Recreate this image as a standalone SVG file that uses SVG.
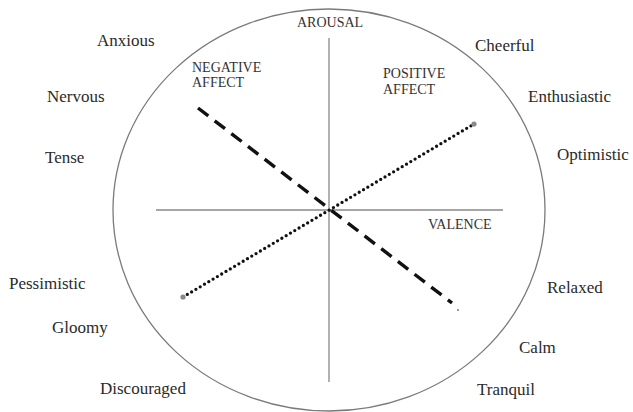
<svg xmlns="http://www.w3.org/2000/svg" width="633" height="412" viewBox="0 0 633 412">
<style>
.lbl{font-family:"Liberation Serif","Times New Roman",serif;font-size:17px;fill:#2a2a2a}
.cap{font-family:"Liberation Serif","Times New Roman",serif;font-size:14px;fill:#333}
.axis{stroke:#888;stroke-width:1.3;fill:none}
</style>
<rect width="633" height="412" fill="#fff"/>
<g id="circle"><ellipse cx="329" cy="210" rx="216" ry="201" fill="none" stroke="#7a7a7a" stroke-width="1.3"/></g>
<g id="connectors">
<line class="axis" x1="329" y1="38" x2="329" y2="382"/>
<line class="axis" x1="156" y1="210" x2="503" y2="210"/>
<line x1="198" y1="108" x2="452" y2="303" stroke="#111" stroke-width="3.4" stroke-dasharray="13 8"/>
<circle cx="458" cy="310" r="1" fill="#777"/>
<line x1="183" y1="297" x2="474" y2="124" stroke="#111" stroke-width="3.3" stroke-linecap="round" stroke-dasharray="0 5"/>
<circle cx="183" cy="297" r="2.6" fill="#888"/>
<circle cx="474" cy="124" r="2.6" fill="#888"/>
</g>
<g id="axis-labels">
<text class="cap" x="297" y="27">AROUSAL</text>
<text class="cap" x="428" y="229">VALENCE</text>
</g>
<g id="negative-affect"><text class="cap" x="192" y="72">NEGATIVE</text><text class="cap" x="192" y="87">AFFECT</text></g>
<g id="positive-affect"><text class="cap" x="383" y="78">POSITIVE</text><text class="cap" x="383" y="94">AFFECT</text></g>
<g id="anxious"><text class="lbl" x="97" y="46">Anxious</text></g>
<g id="nervous"><text class="lbl" x="47" y="102">Nervous</text></g>
<g id="tense"><text class="lbl" x="45" y="163">Tense</text></g>
<g id="pessimistic"><text class="lbl" x="9" y="289">Pessimistic</text></g>
<g id="gloomy"><text class="lbl" x="52" y="333">Gloomy</text></g>
<g id="discouraged"><text class="lbl" x="100" y="394">Discouraged</text></g>
<g id="cheerful"><text class="lbl" x="475" y="51">Cheerful</text></g>
<g id="enthusiastic"><text class="lbl" x="528" y="102">Enthusiastic</text></g>
<g id="optimistic"><text class="lbl" x="557" y="160">Optimistic</text></g>
<g id="relaxed"><text class="lbl" x="547" y="293">Relaxed</text></g>
<g id="calm"><text class="lbl" x="519" y="353">Calm</text></g>
<g id="tranquil"><text class="lbl" x="477" y="395">Tranquil</text></g>
</svg>
